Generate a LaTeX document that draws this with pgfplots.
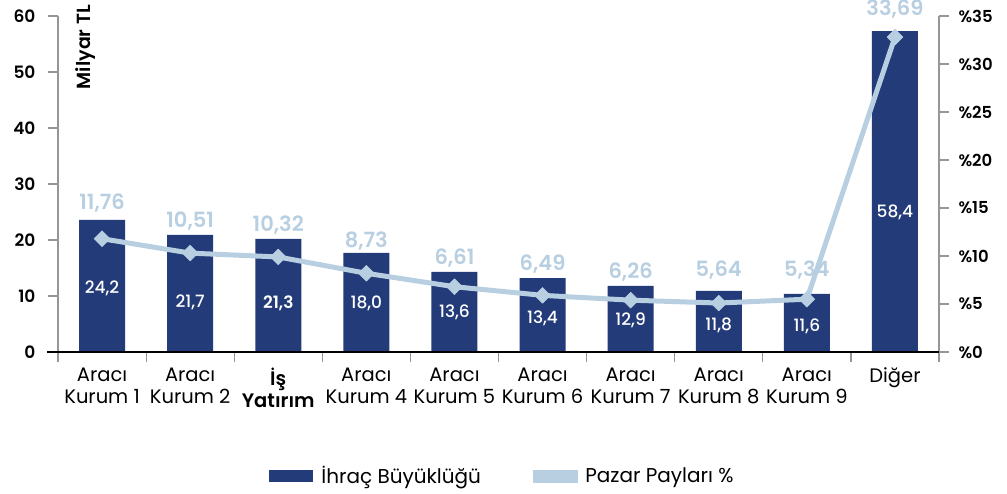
\documentclass[border=0pt]{standalone}
\usepackage{fontspec}
\setmainfont{Poppins}
\newfontfamily\psemi{Poppins SemiBold}
\newfontfamily\pmed{Poppins Medium}
\usepackage{pgfplots}
\pgfplotsset{compat=1.18}
\definecolor{navy}{RGB}{35,59,120}
\definecolor{lblue}{RGB}{184,207,226}
\definecolor{axgray}{RGB}{150,150,150}
\begin{document}
\begin{tikzpicture}
\useasboundingbox (-58bp,-142bp) rectangle (949bp,352bp);
\begin{axis}[
  at={(0,0)}, anchor=south west,
  scale only axis, width=881bp, height=336bp,
  xmin=-0.5, xmax=9.5, ymin=0, ymax=60,
  clip=false,
  axis line style={draw=none},
  tick align=outside, major tick length=10bp,
  tick style={axgray, line width=1.2bp},
  xtick pos=bottom, ytick pos=left,
  xtick={-0.5,0.5,...,9.5}, xticklabels={},
  ytick={0,10,...,60}, yticklabels={0,10,20,30,40,50,60},
  yticklabel style={font=\psemi\fontsize{17bp}{17bp}\selectfont, xshift=-9bp},
  extra x ticks={0,1,...,9},
  extra x tick labels={Aracı\\Kurum 1,Aracı\\Kurum 2,{\psemi İş}\\{\psemi Yatırım},Aracı\\Kurum 4,Aracı\\Kurum 5,Aracı\\Kurum 6,Aracı\\Kurum 7,Aracı\\Kurum 8,Aracı\\Kurum 9,Diğer},
  extra x tick style={major tick length=0pt, tick style={draw=none},
    xticklabel style={align=center, font=\fontsize{19.5bp}{22bp}\selectfont, anchor=north, yshift=-12bp}},
  legend style={at={(0.5045,-0.369)}, anchor=center, draw=none, fill=none,
    legend columns=2, font=\fontsize{20bp}{20bp}\selectfont,
    /tikz/every odd column/.append style={column sep=6bp},
    /tikz/every even column/.append style={column sep=50bp}},
  legend cell align=left,
]
\addplot[ybar, bar width=46bp, fill=navy, draw=none,
  legend image code/.code={\fill[navy] (0bp,-6bp) rectangle (44bp,6bp);}]
  coordinates {(0,23.6) (1,20.9) (2,20.2) (3,17.7) (4,14.3) (5,13.2) (6,11.8) (7,10.9) (8,10.4) (9,57.3)};
\addlegendentry{İhraç Büyüklüğü}
\addlegendimage{legend image code/.code={\fill[lblue] (0bp,-6bp) rectangle (44bp,6bp);}}
\addlegendentry{Pazar Payları \%}
% inner labels
\addplot[only marks, mark=none, nodes near coords, point meta=explicit symbolic,
  nodes near coords style={anchor=center, text=white, font=\pmed\fontsize{17bp}{17bp}\selectfont}]
  table[meta=lab] {
x y lab
0 11.4 24,2
1 8.9 21,7
2 8.75 {\psemi 21,3}
3 8.75 18,0
4 7.1 13,6
5 6.1 13,4
6 5.7 12,9
7 4.8 11,8
8 4.5 11,6
9 25.0 58,4
};
% outer labels
\addplot[only marks, mark=none, nodes near coords, point meta=explicit symbolic,
  nodes near coords style={anchor=center, text=lblue, font=\psemi\fontsize{21bp}{21bp}\selectfont}]
  table[meta=lab] {
x y lab
0 26.6 11,76
1 23.4 10,51
2 22.7 10,32
3 19.8 8,73
4 16.8 6,61
5 15.7 6,49
6 14.3 6,26
7 14.6 5,64
8 14.6 5,34
9 61.25 33,69
};
\draw[axgray, line width=1.2bp] ([yshift=-7bp]rel axis cs:0,0) -- (rel axis cs:0,1);
\draw[axgray, line width=1.2bp] ([yshift=-7bp]rel axis cs:1,0) -- (rel axis cs:1,1);
\draw[black, line width=2.5bp] ([xshift=-11bp]rel axis cs:0,0) -- (rel axis cs:1,0);
\node[rotate=90, anchor=east, inner sep=0pt, font=\psemi\fontsize{19bp}{19bp}\selectfont] at ([xshift=28bp, yshift=11bp]rel axis cs:0,1) {Milyar TL};
\end{axis}
\begin{axis}[
  at={(0,0)}, anchor=south west,
  scale only axis, width=881bp, height=336bp,
  xmin=-0.5, xmax=9.5, ymin=0, ymax=35,
  clip=false,
  axis line style={draw=none},
  xtick=\empty,
  ytick={0,5,...,35}, yticklabels={\%0,\%5,\%10,\%15,\%20,\%25,\%30,\%35},
  ytick pos=right,
  tick align=outside, major tick length=10bp,
  tick style={axgray, line width=1.2bp},
  yticklabel style={font=\psemi\fontsize{16.5bp}{16.5bp}\selectfont, xshift=6bp},
]
\addplot[lblue, line width=5bp, line join=round, mark=square*,
  mark size=5.6bp, mark options={solid, rotate=45, line width=0.5bp, fill=lblue}]
  coordinates {(0,11.8) (1,10.3) (2,9.9) (3,8.2) (4,6.8) (5,5.9) (6,5.4) (7,5.1) (8,5.5) (9,32.8)};
\end{axis}
\end{tikzpicture}
\end{document}
